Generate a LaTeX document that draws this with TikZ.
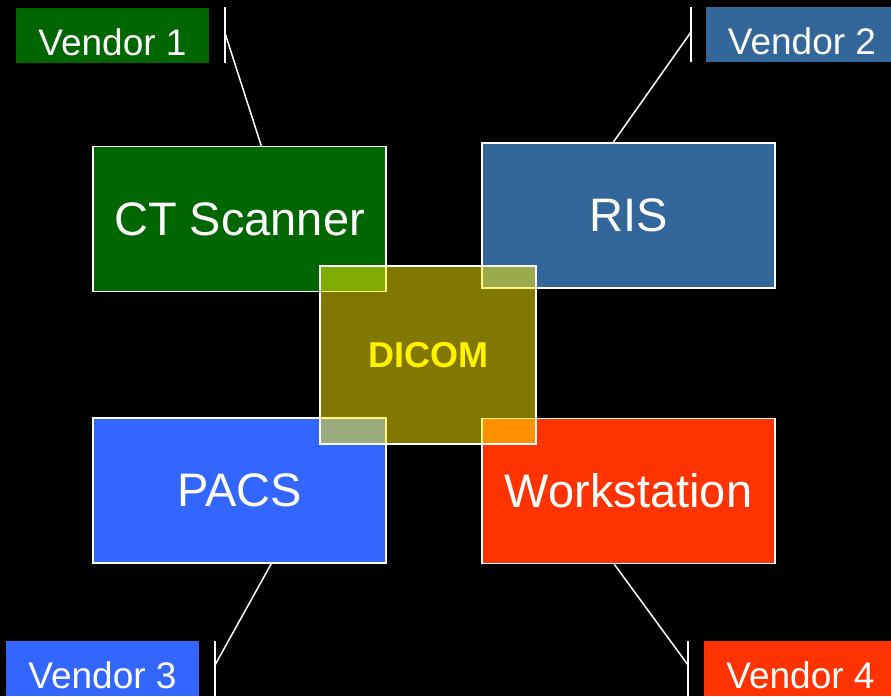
\documentclass[tikz,border=0pt]{standalone}
\usepackage{fontspec}
\setmainfont{Liberation Sans}
\definecolor{ctgreen}{HTML}{006600}
\definecolor{risblue}{HTML}{336699}
\definecolor{pacsblue}{HTML}{3366FF}
\definecolor{wsred}{HTML}{FF3300}
\definecolor{dicomyellow}{HTML}{FFF000}
\tikzset{
  sysbox/.style={draw=white, line width=1.5pt, minimum width=293pt, minimum height=145pt,
    inner sep=0pt, text=white, font=\fontsize{47}{52}\selectfont},
  vendorbox/.style={minimum width=193pt, minimum height=55pt, inner sep=0pt,
    text height=39pt, text depth=0pt,
    text=white, font=\fontsize{37}{40}\selectfont},
  hub/.style={draw=white, line width=1.5pt, fill=dicomyellow, fill opacity=0.5,
    text opacity=1, minimum width=216pt, minimum height=178pt, inner sep=0pt,
    text=yellow, font=\fontsize{36}{40}\selectfont\bfseries},
  link/.style={draw=white, line width=1.5pt}
}
\begin{document}
\begin{tikzpicture}[x=1pt, y=-1pt]
  \fill[black] (0,0) rectangle (891,696);
  \useasboundingbox (0,0) rectangle (891,696);

  % systems
  \node[sysbox, fill=ctgreen] (ct) at (239.5,219) {CT Scanner};
  \node[sysbox, fill=risblue] (ris) at (628.5,215.5) {RIS};
  \node[sysbox, fill=pacsblue] (pacs) at (239.5,490.5) {PACS};
  \node[sysbox, fill=wsred] (ws) at (628.5,491) {Workstation};

  % shared standard in the middle
  \node[hub] (dicom) at (428,355) {\raisebox{-1.5pt}{DICOM}};

  % vendor labels
  \node[vendorbox, fill=ctgreen] (v1) at (112.5,35.5) {Vendor 1};
  \node[vendorbox, fill=risblue] (v2) at (802,34.5) {Vendor 2};
  \node[vendorbox, fill=pacsblue] (v3) at (102.5,668.5) {Vendor 3};
  \node[vendorbox, fill=wsred] (v4) at (800.5,668.5) {Vendor 4};

  % tick marks beside the vendor labels
  \coordinate (t1a) at (225,7);   \coordinate (t1b) at (225,63);  \coordinate (t1m) at (225,33);
  \coordinate (t2a) at (691,7);   \coordinate (t2b) at (691,62);  \coordinate (t2m) at (691,32);
  \coordinate (t3a) at (215,641); \coordinate (t3b) at (215,696); \coordinate (t3m) at (215,665);
  \coordinate (t4a) at (688,641); \coordinate (t4b) at (688,696); \coordinate (t4m) at (688,665);
  \draw[link] (t1a) -- (t1b);
  \draw[link] (t2a) -- (t2b);
  \draw[link] (t3a) -- (t3b);
  \draw[link] (t4a) -- (t4b);

  % leader lines from each tick to its system
  \draw[link] (t1m) -- ([xshift=169pt]ct.north west);
  \draw[link] (t2m) -- ([xshift=132pt]ris.north west);
  \draw[link] (t3m) -- ([xshift=179pt]pacs.south west);
  \draw[link] (t4m) -- ([xshift=133pt]ws.south west);
\end{tikzpicture}
\end{document}
